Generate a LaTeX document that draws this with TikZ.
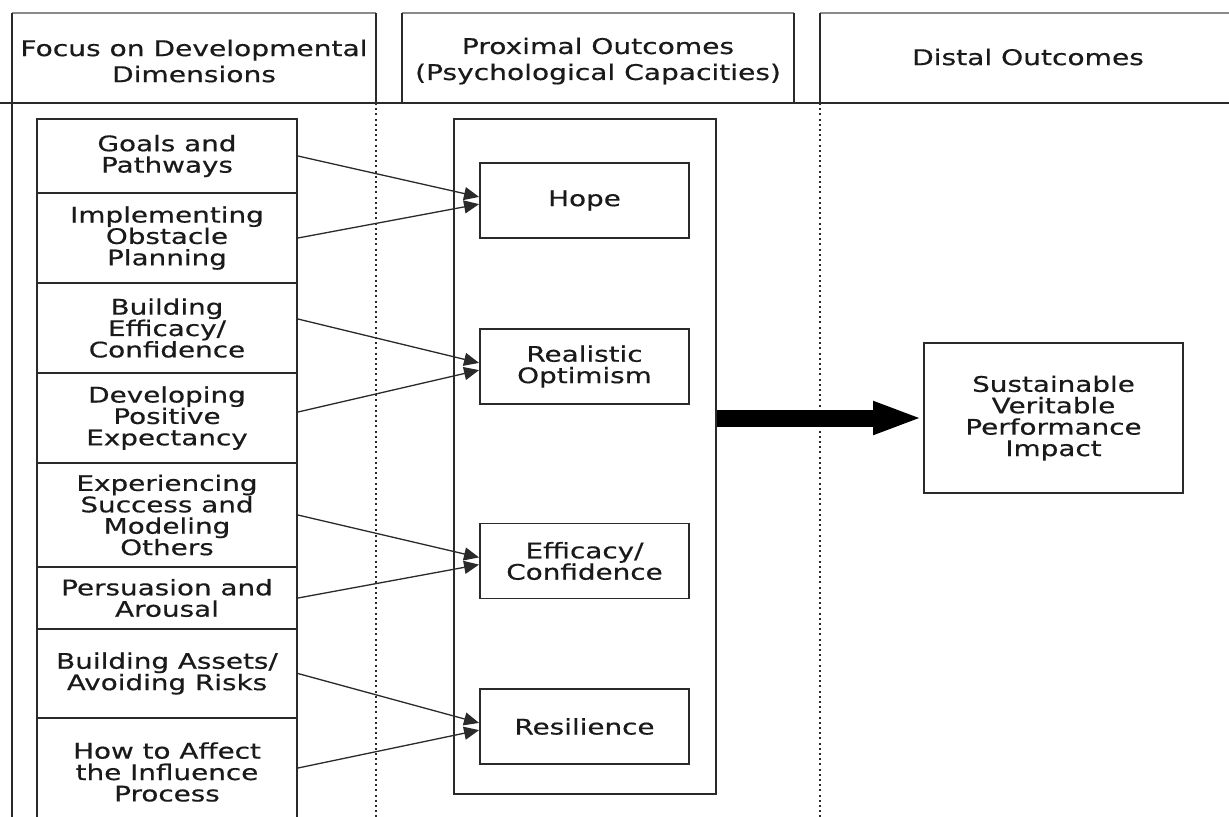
\documentclass[tikz,border=0pt]{standalone}
\usepackage{fontspec}
\setmainfont{DejaVu Sans}[FakeStretch=1.3,FakeBold=0.5]
\usetikzlibrary{arrows.meta}
\definecolor{ln}{HTML}{2A2A2A}
\definecolor{tx}{HTML}{1A1A1A}
\definecolor{toplinecol}{HTML}{8A8A8A}
\begin{document}
\begin{tikzpicture}[x=0.5pt,y=-0.5pt,
  box/.style={draw=ln, line width=0.95pt, inner sep=0pt, align=center, text=tx,
    font=\fontsize{10.7pt}{10.7pt}\selectfont},
  lbox/.style={box, minimum width=130pt},
  pbox/.style={box, minimum width=104.5pt, minimum height=37.5pt},
  hdr/.style={inner sep=0pt, align=center, text=tx, font=\fontsize{10.8pt}{13pt}\selectfont},
  hline/.style={draw=ln, line width=0.95pt},
  topline/.style={draw=toplinecol, line width=1pt},
  sep/.style={draw=ln, line width=0.9pt, dash pattern=on 1pt off 1.6pt},
  conn/.style={draw=ln, line width=0.65pt, -{Triangle[length=7.5pt,width=6.5pt]}},
  bigarrow/.style={draw=black, line width=8.5pt, -{Triangle[length=25pt,width=15pt]}}
]
\fill[white] (0,0) rectangle (1229,816);
\useasboundingbox (0,0) rectangle (1229,816);

% header frame
\draw[topline] (12,13) -- (376,13);
\draw[topline] (402,13) -- (794,13);
\draw[topline] (820,13) -- (1229,13);
\draw[hline] (0,103) -- (1229,103);
\draw[hline] (12,13) -- (12,820);
\draw[hline] (376,13) -- (376,103);
\draw[hline] (402,13) -- (402,103);
\draw[hline] (794,13) -- (794,103);
\draw[hline] (820,13) -- (820,103);
\draw[sep] (376,103) -- (376,820);
\draw[sep] (820,103) -- (820,820);

\node[hdr] (h1) at (194,61) {Focus on Developmental\\Dimensions};
\node[hdr] (h2) at (598,61) {Proximal Outcomes\\(Psychological Capacities)};
\node[hdr] (h3) at (1028,57) {Distal Outcomes};

% left column
\node[lbox, minimum height=37pt] (goals) at (167,156) {Goals and\\Pathways};
\node[lbox, minimum height=45pt] (impl) at (167,238) {Implementing\\Obstacle\\Planning};
\node[lbox, minimum height=45pt] (build) at (167,328) {Building\\Efficacy/\\Confidence};
\node[lbox, minimum height=45pt] (dev) at (167,418) {Developing\\Positive\\Expectancy};
\node[lbox, minimum height=52pt] (exp) at (167,515) {Experiencing\\Success and\\Modeling\\Others};
\node[lbox, minimum height=31pt] (pers) at (167,598) {Persuasion and\\Arousal};
\node[lbox, minimum height=44.5pt] (assets) at (167,673.5) {Building Assets/\\Avoiding Risks};
\node[lbox, minimum height=54pt] (howto) at (167,772) {How to Affect\\the Influence\\Process};

% middle column
\node[box, minimum width=131pt, minimum height=337.5pt] (big) at (585,456.5) {};
\node[pbox] (hope) at (584.5,200.5) {Hope};
\node[pbox] (opt) at (584.5,366.5) {Realistic\\Optimism};
\node[pbox] (eff) at (584.5,561) {Efficacy/\\Confidence};
\node[pbox] (res) at (584.5,726.5) {Resilience};

% right column
\node[box, minimum width=129.5pt, minimum height=75pt] (sust) at (1053.5,418) {Sustainable\\Veritable\\Performance\\Impact};

% connectors
\draw[conn] (goals.east) -- ([yshift=1.8pt]hope.west);
\draw[conn] (impl.east) -- ([yshift=-1.8pt]hope.west);
\draw[conn] ([yshift=4.5pt]build.east) -- ([yshift=1.8pt]opt.west);
\draw[conn] ([yshift=3pt]dev.east) -- ([yshift=-1.8pt]opt.west);
\draw[conn] (exp.east) -- ([yshift=1.8pt]eff.west);
\draw[conn] (pers.east) -- ([yshift=-1.8pt]eff.west);
\draw[conn] (assets.east) -- ([yshift=1.8pt]res.west);
\draw[conn] ([yshift=2pt]howto.east) -- ([yshift=-1.8pt]res.west);

\draw[bigarrow] (big.east |- sust.west) -- (sust.west);
\end{tikzpicture}
\end{document}
